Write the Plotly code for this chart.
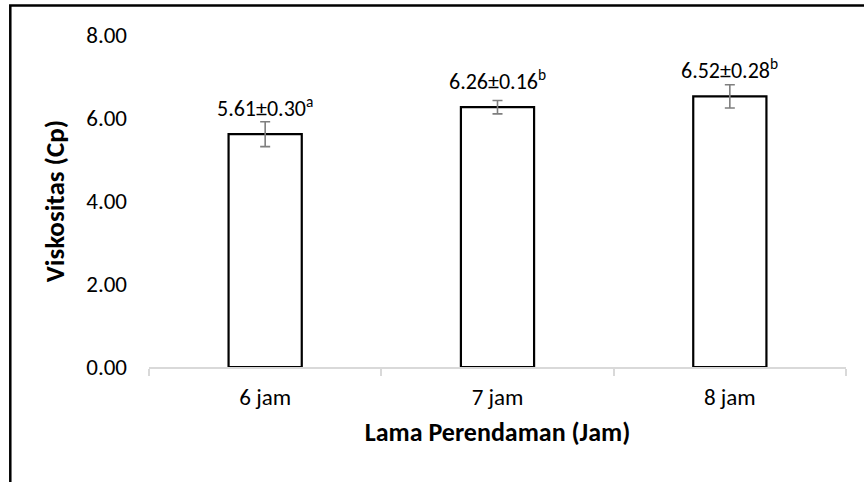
import plotly.graph_objects as go

# Viscosity by soaking time
categories = ["6 jam", "7 jam", "8 jam"]
viscosity = [5.61, 6.26, 6.52]
std_dev = [0.30, 0.16, 0.28]
letters = ["a", "b", "b"]
y_ticks = [0, 2, 4, 6, 8]

FONT = "Calibri, Carlito, Lato, sans-serif"

fig = go.Figure()
fig.add_trace(go.Bar(
    x=categories,
    y=viscosity,
    width=0.315,
    marker=dict(color="white", line=dict(color="black", width=2.2)),
    error_y=dict(type="data", array=std_dev, visible=True,
                 color="#7f7f7f", thickness=1.6, width=5),
    showlegend=False,
    hoverinfo="skip",
))

for c, v, s, l in zip(categories, viscosity, std_dev, letters):
    fig.add_annotation(
        x=c, y=v, xref="x", yref="y",
        text=f"{v:.2f}±{s:.2f}<sup>{l}</sup>",
        showarrow=False, yanchor="bottom", yshift=10,
        font=dict(family=FONT, size=22, color="black"),
    )

# Frame around the chart
fig.add_shape(type="rect", xref="paper", yref="paper",
              x0=-0.199, x1=1.04, y0=-0.40, y1=1.089,
              line=dict(color="black", width=2.5), fillcolor="rgba(0,0,0,0)",
              layer="above")

fig.update_layout(
    width=864, height=482,
    margin=dict(l=149, r=18, t=35, b=115),
    paper_bgcolor="white", plot_bgcolor="white",
    font=dict(family=FONT, size=23, color="black"),
    xaxis=dict(
        type="category", range=[-0.5, 2.5],
        showline=True, linecolor="#d9d9d9", linewidth=1.5,
        ticks="outside", tickson="boundaries", ticklen=7, tickcolor="#d9d9d9", tickwidth=1.5,
        ticklabelstandoff=9,
        tickfont=dict(family=FONT, size=23),
        title=dict(text="<b>Lama Perendaman (Jam)</b>", font=dict(family=FONT, size=26), standoff=12),
        showgrid=False, zeroline=False, fixedrange=True,
    ),
    yaxis=dict(
        range=[0, 8], tickvals=y_ticks, tickformat=".2f",
        showline=False, showgrid=False, zeroline=False, ticks="",
        ticklabelstandoff=21,
        tickfont=dict(family=FONT, size=23),
        title=dict(text="<b>Viskositas (Cp)</b>", font=dict(family=FONT, size=27), standoff=13),
        fixedrange=True,
    ),
)

fig.write_html("out.html")
